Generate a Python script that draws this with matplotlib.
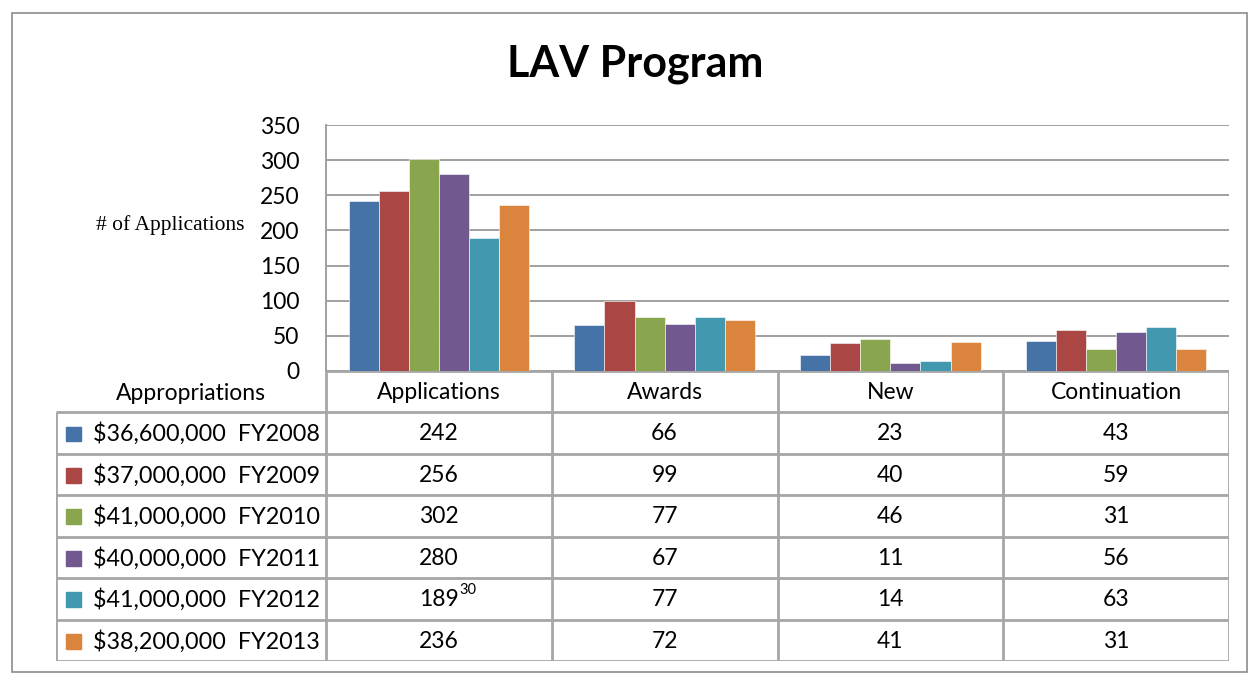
import matplotlib.pyplot as plt
import numpy as np
from matplotlib.patches import Rectangle

categories = ["Applications", "Awards", "New", "Continuation"]
series_labels = [
    "$36,600,000  FY2008",
    "$37,000,000  FY2009",
    "$41,000,000  FY2010",
    "$40,000,000  FY2011",
    "$41,000,000  FY2012",
    "$38,200,000  FY2013",
]
values = [
    [242, 66, 23, 43],
    [256, 99, 40, 59],
    [302, 77, 46, 31],
    [280, 67, 11, 56],
    [189, 77, 14, 63],
    [236, 72, 41, 31],
]
colors = ["#4572A7", "#AA4643", "#89A54E", "#71588F", "#4198AF", "#DB843D"]
yticks = [0, 50, 100, 150, 200, 250, 300, 350]

W, H = 1248, 675
FONT = "Lato"
GRID = "#a0a0a0"
LINE = "#a6a6a6"

fig = plt.figure(figsize=(W / 100, H / 100), dpi=100)
fig.patch.set_facecolor("white")


def fx(px):
    return px / W


def fy(py):
    return 1 - py / H


# outer frame
fig.add_artist(Rectangle((fx(12), fy(672)), fx(1247) - fx(12), fy(13) - fy(672),
                         transform=fig.transFigure, fill=False, edgecolor="#8c8c8c", lw=1.2))

fig.text(fx(635), fy(64), "LAV Program", ha="center", va="center",
         fontsize=31, fontweight="bold", family=FONT)

# bar chart
x_left, x_right, y_top, y_bot = 326, 1229, 125, 371
ax = fig.add_axes([fx(x_left), fy(y_bot), fx(x_right) - fx(x_left), fy(y_top) - fy(y_bot)])
n = len(series_labels)
group_w = 0.8
bw = group_w / n
x = np.arange(len(categories))
for i, (vals, c) in enumerate(zip(values, colors)):
    ax.bar(x - group_w / 2 + bw * (i + 0.5), vals, width=bw, color=c,
           edgecolor="white", linewidth=0.4, zorder=3)
ax.set_xlim(-0.5, len(categories) - 0.5)
ax.set_ylim(0, 350)
ax.set_yticks(yticks)
ax.set_yticklabels([str(t) for t in yticks], family=FONT, fontsize=16.5)
ax.set_xticks([])
ax.yaxis.grid(True, color=GRID, lw=1.4, zorder=0)
ax.tick_params(axis="y", length=0, pad=19)
for s in ["top", "bottom", "right"]:
    ax.spines[s].set_visible(False)
ax.spines["left"].set_color(GRID)
ax.spines["left"].set_linewidth(1.4)

fig.text(fx(245), fy(225), "# of Applications", ha="right", va="center",
         fontsize=15.5, family="Liberation Serif")

# data table below the chart
t_left, t_bot = 56, 661
unit = (x_right - x_left) / len(categories)
tx0 = -0.5 - (x_left - t_left) / unit
tab = fig.add_axes([fx(t_left), fy(t_bot), fx(x_right) - fx(t_left), fy(y_bot) - fy(t_bot)])
tab.set_xlim(tx0, len(categories) - 0.5)
tab.set_ylim(n + 1, 0)
tab.axis("off")

lw = 2.0
# horizontal lines
tab.plot([-0.5, len(categories) - 0.5], [0, 0], color=LINE, lw=lw, solid_capstyle="butt")
for r in range(1, n + 2):
    tab.plot([tx0, len(categories) - 0.5], [r, r], color=LINE, lw=lw, solid_capstyle="butt")
# vertical lines
tab.plot([tx0, tx0], [1, n + 1], color=LINE, lw=lw, solid_capstyle="butt")
for k in range(len(categories) + 1):
    xv = k - 0.5
    tab.plot([xv, xv], [0, n + 1], color=LINE, lw=lw, solid_capstyle="butt")

tab.text((tx0 - 0.5) / 2, 0.55, "Appropriations", ha="center", va="center",
         fontsize=16.5, family=FONT)
for j, cat in enumerate(categories):
    tab.text(j, 0.52, cat, ha="center", va="center", fontsize=16.5, family=FONT)

sq = 15 / unit
for i, (lab, vals, c) in enumerate(zip(series_labels, values, colors)):
    row = i + 1.52
    tab.add_patch(Rectangle((tx0 + 10 / unit, row - 0.18), sq, 0.36, color=c))
    tab.text(tx0 + 37 / unit, row, lab, ha="left", va="center", fontsize=16.8, family=FONT)
    for j, v in enumerate(vals):
        t = tab.text(j, row, str(v), ha="center", va="center", fontsize=16.5, family=FONT)
        if i == 4 and j == 0:
            tab.annotate("30", xy=(1.02, 0.95), xycoords=t, ha="left", va="center",
                         fontsize=10.5, family=FONT)

fig.savefig("out.png", dpi=100)
